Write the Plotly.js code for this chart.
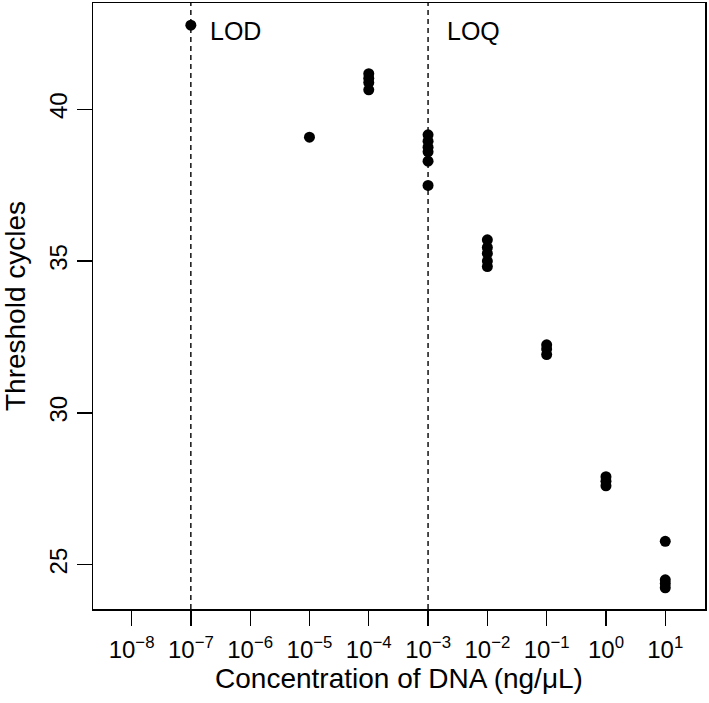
<!DOCTYPE html>
<html>
<head>
<meta charset="utf-8">
<script src="https://cdn.plot.ly/plotly-3.0.1.min.js"></script>
<style>
  html, body { margin: 0; padding: 0; background: #fff; }
  #chart { width: 709px; height: 703px; }
</style>
</head>
<body>
<div id="chart"></div>
<script>
// DNA concentrations (ng/uL) and the threshold cycles measured at each
const concentrations = [1e-7, 1e-5, 1e-4, 1e-3, 1e-2, 1e-1, 1e0, 1e1];
const thresholdCycles = [
  [42.77],
  [39.08],
  [41.17, 41.02, 40.88, 40.64],
  [39.16, 38.95, 38.75, 38.6, 38.29, 37.49],
  [35.7, 35.45, 35.25, 35.0, 34.82],
  [32.24, 32.1, 31.92],
  [27.9, 27.75, 27.6],
  [25.77, 24.5, 24.38, 24.24]
];

// Detection / quantification limits
const limitLabels = ['LOD', 'LOQ'];
const limitValues = [1e-7, 1e-3];

// axis ticks
const tickExponents = [-8, -7, -6, -5, -4, -3, -2, -1, 0, 1];
const yTicks = [25, 30, 35, 40];
const yRange = [23.54, 43.5];

const xs = [], ys = [];
concentrations.forEach((c, i) => {
  thresholdCycles[i].forEach(v => { xs.push(c); ys.push(v); });
});

const font = 'Liberation Sans, Arial, Helvetica, sans-serif';

// dashed vertical lines across the full height
const limitTraces = limitValues.map(v => ({
  x: [v, v],
  y: yRange,
  type: 'scatter',
  mode: 'lines',
  line: { color: '#000', width: 1.4, dash: '5px,4px' },
  hoverinfo: 'skip'
}));

const points = {
  x: xs,
  y: ys,
  type: 'scatter',
  mode: 'markers',
  marker: { color: '#000', size: 11 },
  hoverinfo: 'x+y'
};

const annotations = limitValues.map((v, i) => ({
  x: Math.log10(v), y: 42.59,
  xref: 'x', yref: 'y',
  text: limitLabels[i],
  showarrow: false,
  xanchor: 'left',
  xshift: 17,
  font: { family: font, size: 25, color: '#000' }
}));

const layout = {
  width: 709,
  height: 703,
  margin: { l: 93, r: 4, t: 3, b: 94 },
  paper_bgcolor: '#fff',
  plot_bgcolor: '#fff',
  showlegend: false,
  font: { family: font, color: '#000' },
  xaxis: {
    type: 'log',
    range: [-8.65, 1.67],
    tickmode: 'array',
    tickvals: tickExponents.map(e => Math.pow(10, e)),
    ticktext: tickExponents.map(e => '10<sup>' + (e < 0 ? '\u2212' + (-e) : e) + '</sup>'),
    ticks: 'outside',
    ticklen: 15,
    tickwidth: 1.3,
    tickcolor: '#000',
    ticklabelstandoff: 4,
    tickfont: { family: font, size: 24, color: '#000' },
    showgrid: false,
    zeroline: false,
    showline: true,
    mirror: true,
    linecolor: '#000',
    linewidth: 1.5,
    title: { text: 'Concentration of DNA (ng/\u03bcL)', font: { family: font, size: 28, color: '#000' }, standoff: 4 }
  },
  yaxis: {
    range: yRange,
    tickmode: 'array',
    tickvals: yTicks,
    ticktext: yTicks.map(String),
    tickangle: -90,
    ticks: 'outside',
    ticklen: 15,
    tickwidth: 1.3,
    tickcolor: '#000',
    tickfont: { family: font, size: 24, color: '#000' },
    showgrid: false,
    zeroline: false,
    showline: true,
    mirror: true,
    linecolor: '#000',
    linewidth: 1.5,
    title: { text: 'Threshold cycles', font: { family: font, size: 28, color: '#000' }, standoff: 12 }
  },
  annotations: annotations
};

Plotly.newPlot('chart', limitTraces.concat([points]), layout, { displayModeBar: false, staticPlot: true });
</script>
</body>
</html>
